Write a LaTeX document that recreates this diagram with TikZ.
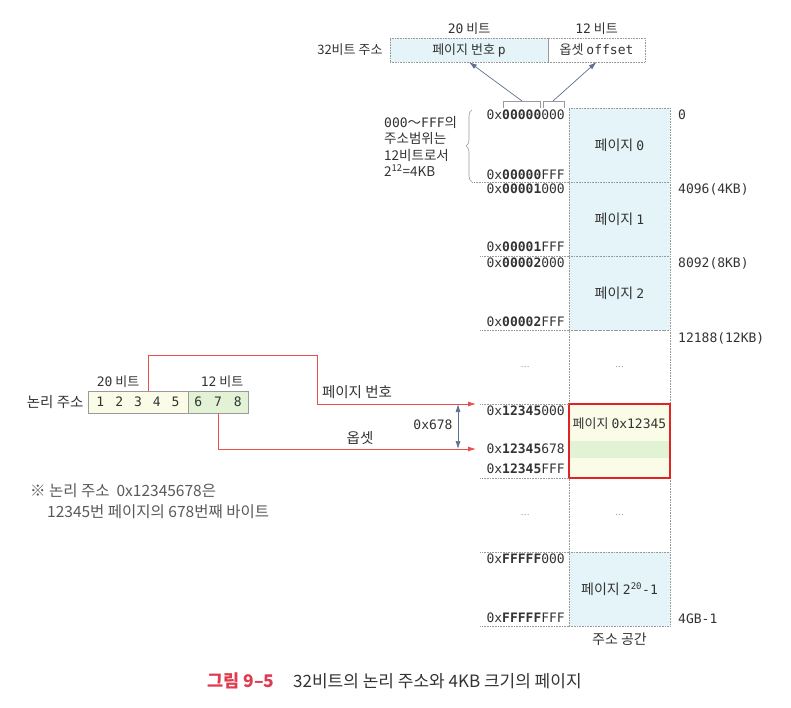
\documentclass[tikz,border=0pt]{standalone}
\usepackage{fontspec}
\setmainfont{Noto Sans CJK KR}
\setmonofont{DejaVu Sans Mono}
\usepackage{tikz}
\usetikzlibrary{positioning,decorations.pathreplacing,arrows.meta}
\definecolor{pgblue}{HTML}{E5F4F8}
\definecolor{lgyellow}{HTML}{FBFCE8}
\definecolor{lggreen}{HTML}{E2F3D5}
\definecolor{redln}{HTML}{E8504A}
\definecolor{redbox}{HTML}{E02424}
\definecolor{capred}{HTML}{E03C50}
\definecolor{cellgray}{HTML}{9A9A9A}
\definecolor{dimblue}{HTML}{5D7090}
\definecolor{txt}{HTML}{333333}
\newcommand{\hexa}[3]{\texttt{#1\textbf{#2}#3}}
\newcommand{\mn}[1]{{\fontsize{13}{15}\ttfamily #1}}

\begin{document}
\begin{tikzpicture}[x=1pt,y=-1pt,>={Latex[length=8pt,width=5pt]},
  font=\fontsize{14}{16}\selectfont,text=txt,
  small/.style={font=\fontsize{13}{15}\selectfont},
  cell/.style={draw=cellgray,densely dotted,line width=0.6pt,minimum width=101pt,minimum height=74pt,inner sep=0pt,outer sep=0pt},
  sep/.style={draw=cellgray,densely dotted,line width=0.6pt},
  addr/.style={anchor=east,inner sep=0pt,font=\fontsize{13}{15}\ttfamily},
  rlab/.style={anchor=west,inner sep=0pt,font=\fontsize{13}{15}\ttfamily},
  bitbox/.style={draw=cellgray,line width=0.6pt,minimum height=22pt,inner sep=0pt,outer sep=0pt},
  redpath/.style={draw=redln,line width=0.8pt,->},
  dimarr/.style={draw=dimblue,line width=0.7pt}]
\useasboundingbox (0,0) rectangle (791,708);

% address space column
\node[cell,fill=pgblue] (p0) at (619.5,145) {페이지 \mn{0}};
\node[cell,fill=pgblue,below=0pt of p0] (p1) {페이지 \mn{1}};
\node[cell,fill=pgblue,below=0pt of p1] (p2) {페이지 \mn{2}};
\node[cell,below=0pt of p2] (p3) {\textcolor{gray}{\footnotesize\dots}};
\node[cell,fill=lgyellow,below=0pt of p3] (p4) {};
\node[cell,below=0pt of p4] (p5) {\textcolor{gray}{\footnotesize\dots}};
\node[cell,fill=pgblue,below=0pt of p5] (p6) {페이지 \mn{2\textsuperscript{20}-1}};
\fill[lggreen] ([yshift=-37pt]p4.north west) rectangle ([yshift=-54pt]p4.north east);
\draw[redbox,line width=1.4pt] (p4.north west) rectangle (p4.south east);
\node[anchor=north,small] at ([yshift=-10pt]p4.north) {페이지 \mn{0x12345}};
\node[below=3pt of p6] (space) {주소 공간};

\draw[sep] (p1.north west) -- ++(-97,0);
\foreach \c in {p2,p3,p4,p5,p6}
  \draw[sep] (\c.north west) -- ++(-89,0);
\draw[sep] (p6.south west) -- ++(-89,0);
\node[inner sep=0pt] at ([xshift=-44pt]p3.west) {\textcolor{gray}{\footnotesize\dots}};
\node[inner sep=0pt] at ([xshift=-44pt]p5.west) {\textcolor{gray}{\footnotesize\dots}};

% addresses
\node[addr] (a0) at ([xshift=-4pt,yshift=-7pt]p0.north west) {\hexa{0x}{00000}{000}};
\node[addr] at ([xshift=-4pt,yshift=7pt]p0.south west) {\hexa{0x}{00000}{FFF}};
\node[addr] at ([xshift=-4pt,yshift=-7pt]p1.north west) {\hexa{0x}{00001}{000}};
\node[addr] at ([xshift=-4pt,yshift=9pt]p1.south west) {\hexa{0x}{00001}{FFF}};
\node[addr] at ([xshift=-4pt,yshift=-7pt]p2.north west) {\hexa{0x}{00002}{000}};
\node[addr] at ([xshift=-4pt,yshift=8pt]p2.south west) {\hexa{0x}{00002}{FFF}};
\node[addr] at ([xshift=-4pt,yshift=-7pt]p4.north west) {\hexa{0x}{12345}{000}};
\node[addr] at ([xshift=-4pt,yshift=-8pt]p4.west) {\hexa{0x}{12345}{678}};
\node[addr] at ([xshift=-4pt,yshift=9pt]p4.south west) {\hexa{0x}{12345}{FFF}};
\node[addr] at ([xshift=-4pt,yshift=-7pt]p6.north west) {\hexa{0x}{FFFFF}{000}};
\node[addr] at ([xshift=-4pt,yshift=8pt]p6.south west) {\hexa{0x}{FFFFF}{FFF}};

\node[rlab] at ([xshift=8pt,yshift=-7pt]p0.north east) {0};
\node[rlab] at ([xshift=8pt,yshift=-7pt]p1.north east) {4096(4KB)};
\node[rlab] at ([xshift=8pt,yshift=-7pt]p2.north east) {8092(8KB)};
\node[rlab] at ([xshift=8pt,yshift=-8pt]p3.north east) {12188(12KB)};
\node[rlab] at ([xshift=8pt,yshift=7pt]p6.south east) {4GB-1};

% brace
\draw[cellgray,line width=0.6pt,decorate,decoration={brace,amplitude=6pt}]
  ([xshift=-97pt]p0.south west) -- ([xshift=-97pt,yshift=-2pt]p0.north west);
\node[anchor=west,align=left,inner sep=0pt,font=\fontsize{13.5}{16.3}\selectfont] (range) at (384,146.5)
  {\mn{000}〜\mn{FFF}의\\주소범위는\\12비트로서\\2\textsuperscript{12}=4KB};

% 32-bit address
\node[bitbox,small,densely dotted,fill=pgblue,minimum width=158pt,minimum height=24pt] (tb1) at (469,50) {페이지 번호 \mn{p}};
\node[bitbox,small,densely dotted,minimum width=97pt,minimum height=24pt,right=0pt of tb1] (tb2) {옵셋 \mn{offset}};
\node[small,left=4pt of tb1] {32비트 주소};
\node[small,above=0pt of tb1] {\mn{20} 비트};
\node[small,above=0pt of tb2] {\mn{12} 비트};

\coordinate (bm) at (522,101);
\coordinate (bn) at (553,101);
\draw[cellgray,line width=0.6pt] (503,108) -- (503,101) -- (540,101) -- (540,108);
\draw[cellgray,line width=0.6pt] (543,108) -- (543,101) -- (564,101) -- (564,108);
\draw[dimarr,->] (bm) -- (tb1.south);
\draw[dimarr,->] (bn) -- (tb2.south);

% logical address
\node[bitbox,fill=lgyellow,minimum width=100pt] (la1) at (138,402)
  {\mn{1\hspace{11pt}2\hspace{11pt}3\hspace{11pt}4\hspace{11pt}5}};
\node[bitbox,fill=lggreen,minimum width=60pt,right=0pt of la1] (la2)
  {\mn{6\hspace{12pt}7\hspace{12pt}8}};
\node[left=1pt of la1,font=\fontsize{14.5}{16}\selectfont] {논리 주소};
\node[small,above=0pt of la1,xshift=-20pt] {\mn{20} 비트};
\node[small,above=0pt of la2,xshift=4pt] {\mn{12} 비트};

\coordinate (pgk) at (317,355);
\coordinate (l4) at ([xshift=-93pt]p4.north west);
\coordinate (l678) at ([xshift=-93pt,yshift=-8pt]p4.west);
\draw[redpath] ([xshift=10pt]la1.north) |- (pgk) |- (l4);
\draw[redpath] (la2.south) |- (l678);
\node[font=\fontsize{14.5}{16}\selectfont] at (357,392) {페이지 번호};
\node[font=\fontsize{14.5}{16}\selectfont] at (360,438) {옵셋};
\draw[dimarr,<->] ([xshift=-18pt]l4) -- ([xshift=-18pt]l678);
\node[font=\fontsize{13}{15}\ttfamily] at (433,425) {0x678};

% note
\node[anchor=west,inner sep=0pt,text=black!65,font=\fontsize{15.5}{18}\selectfont] at (30,491) {※ 논리 주소 \ 0x12345678은};
\node[anchor=west,inner sep=0pt,text=black!65,font=\fontsize{15.5}{18}\selectfont] at (47,512) {12345번 페이지의 678번째 바이트};

% caption
\node[anchor=west,inner sep=0pt,text=capred,font=\fontsize{17.5}{20}\bfseries] (fig) at (207,681) {그림 9–5};
\node[anchor=west,inner sep=0pt,font=\fontsize{17}{20}\selectfont] at (293,681) {32비트의 논리 주소와 4KB 크기의 페이지};
\end{tikzpicture}
\end{document}
